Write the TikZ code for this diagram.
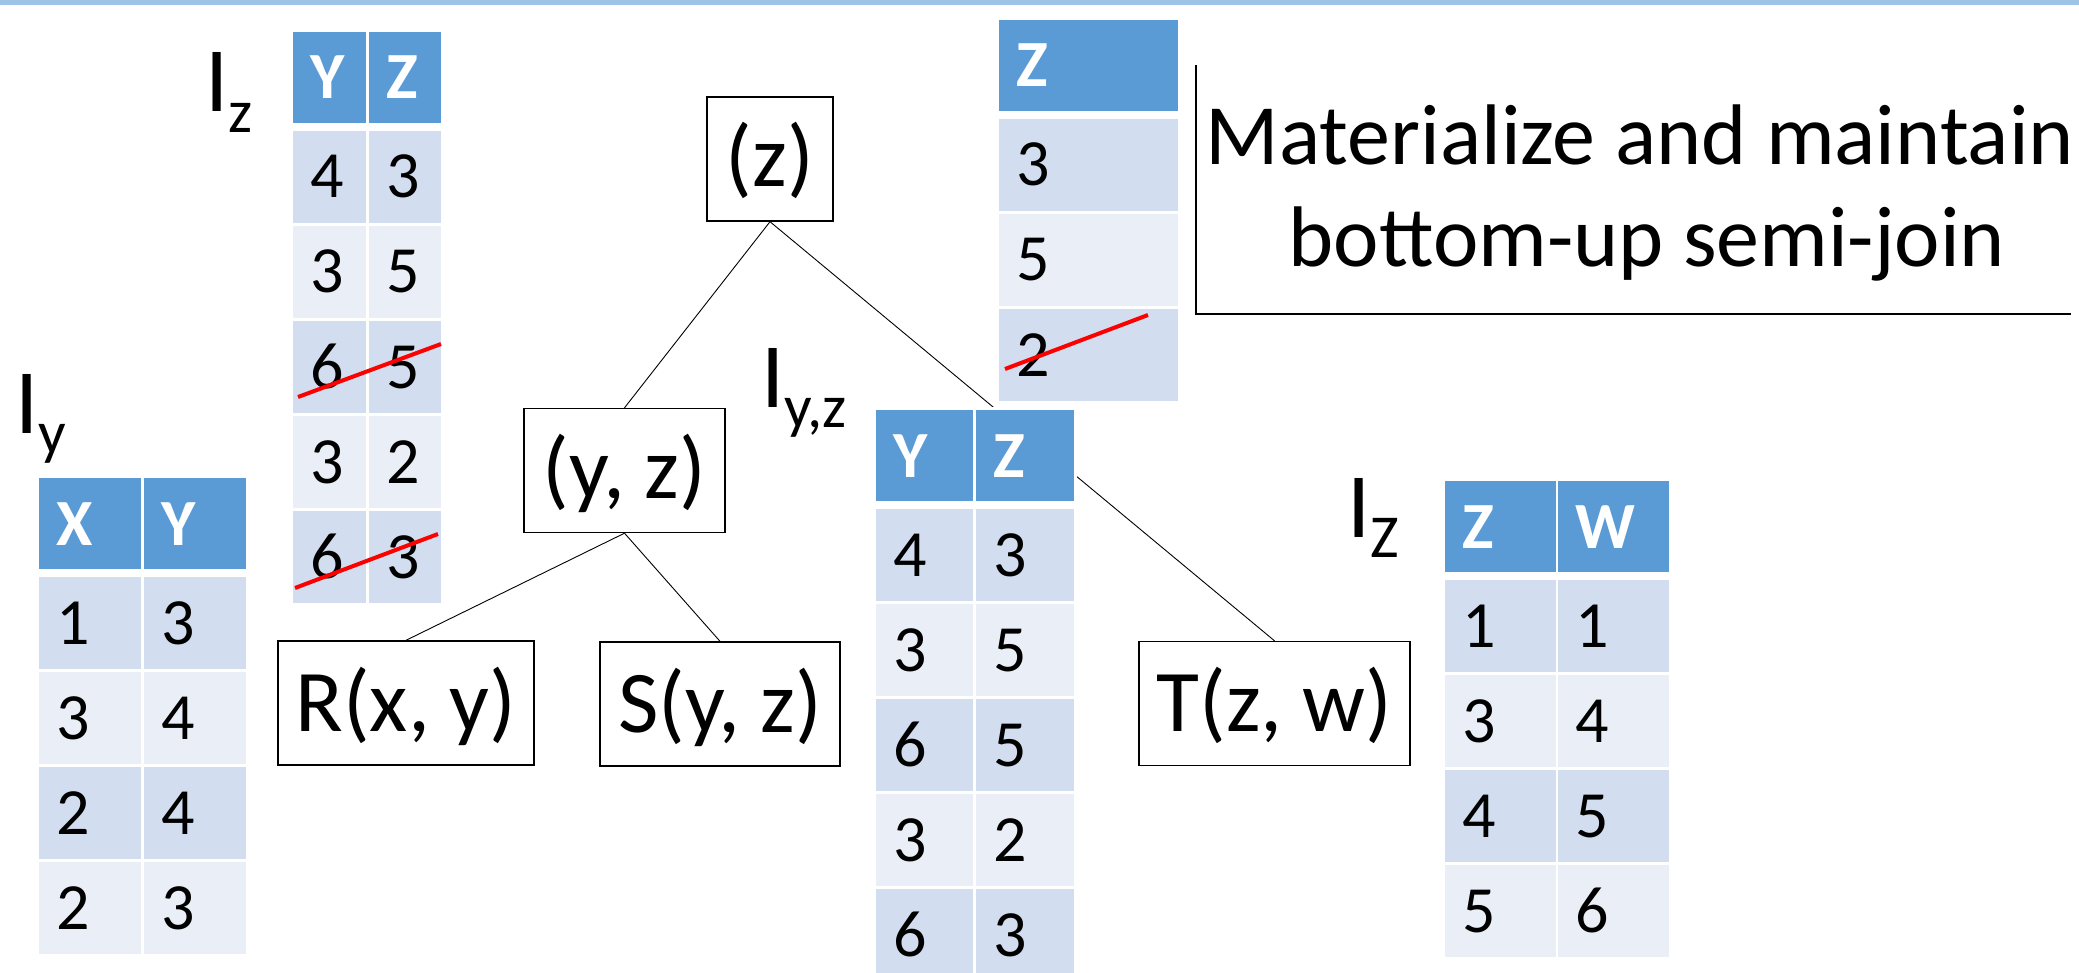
\documentclass[tikz,border=0pt]{standalone}
\usepackage{fontspec}
\setmainfont{Carlito}
\definecolor{hdrblue}{HTML}{5B9BD5}
\definecolor{rowA}{HTML}{D2DEEF}
\definecolor{rowB}{HTML}{EAEFF7}
\definecolor{topbar}{HTML}{9DC3E6}
\definecolor{strikered}{HTML}{FF0000}
\newcommand\treefont{\fontsize{88}{100}\selectfont}
\newcommand\tabfont{\fontsize{66}{76}\selectfont}
\newcommand\lblfont{\fontsize{92}{100}\selectfont}
\newcommand\subfont{\fontsize{61}{70}\selectfont}
\newcommand\mainfont{\fontsize{86}{101}\selectfont}
\tikzset{
  treebox/.style={draw=black, line width=1.4pt, inner sep=0pt, minimum height=124pt, text height=62pt, text depth=6pt, font=\treefont},
  edge/.style={draw=black, line width=0.9pt},
  htext/.style={anchor=base west, inner sep=0pt, text=white, font=\tabfont\bfseries},
  btext/.style={anchor=base west, inner sep=0pt, text=black, font=\tabfont},
  lbl/.style={anchor=base west, inner sep=0pt, font=\lblfont},
  strike/.style={draw=strikered, line width=4pt},
  bracket/.style={draw=black, line width=1.4pt},
  maintext/.style={anchor=base, inner sep=0pt, font=\mainfont},
}
\newcommand\hcell[5]{\fill[hdrblue] (#2,#3) rectangle ++(#4,91); \node[htext] (#1) at ({#2+17},{#3+67}) {#5};}
\newcommand\bcell[6]{\fill[#5] (#2,#3) rectangle ++(#4,92); \node[btext] (#1) at ({#2+17},{#3+67}) {#6};}
\begin{document}
\begin{tikzpicture}[x=1pt,y=-1pt]
\useasboundingbox (0,0) rectangle (2079,973);
\clip (0,0) rectangle (2079,973);
\fill[white] (0,0) rectangle (2079,973);
\fill[topbar] (0,0) rectangle (2079,5);

% tree
\node[treebox, minimum width=126pt] (root) at (770,159) {(z)};
\node[treebox, minimum width=201pt] (yz) at (624.5,470.5) {(y, z)};
\node[treebox, minimum width=256pt] (R) at (406,703) {R(x, y)};
\node[treebox, minimum width=240pt] (S) at (720,704) {S(y, z)};
\node[treebox, minimum width=271pt] (T) at (1274.5,703.5) {T(z, w)};
\draw[edge] (root.south) -- (yz.north);
\draw[edge] (root.south) -- (T.north);
\draw[edge] (yz.south) -- (R.north);
\draw[edge] (yz.south) -- (S.north);

% labels
\node[lbl] (lIz) at (205,112) {I\raisebox{-21pt}{\subfont z}};
\node[lbl] (lIy) at (15,433) {I\raisebox{-20pt}{\subfont y}};
\node[lbl] (lIyz) at (761,407) {I\raisebox{-20pt}{\subfont y,z}};
\node[lbl] (lIZ) at (1347,537) {I\raisebox{-20pt}{\subfont Z}};

% table I_z (top left)
\fill[white] (290,29) rectangle (444,608);
\hcell{izh1}{293}{32}{73}{Y} \hcell{izh2}{369}{32}{72}{Z}
\bcell{iz11}{293}{131}{73}{rowA}{4} \bcell{iz12}{369}{131}{72}{rowA}{3}
\bcell{iz21}{293}{226}{73}{rowB}{3} \bcell{iz22}{369}{226}{72}{rowB}{5}
\bcell{iz31}{293}{321}{73}{rowA}{6} \bcell{iz32}{369}{321}{72}{rowA}{5}
\bcell{iz41}{293}{416}{73}{rowB}{3} \bcell{iz42}{369}{416}{72}{rowB}{2}
\bcell{iz51}{293}{511}{73}{rowA}{6} \bcell{iz52}{369}{511}{72}{rowA}{3}
\draw[strike] (298,397) -- (441,344);
\draw[strike] (295,588) -- (438,534);

% table I_y
\fill[white] (36,475) rectangle (249,957);
\hcell{iyh1}{39}{478}{102}{X} \hcell{iyh2}{144}{478}{102}{Y}
\bcell{iy11}{39}{577}{102}{rowA}{1} \bcell{iy12}{144}{577}{102}{rowA}{3}
\bcell{iy21}{39}{672}{102}{rowB}{3} \bcell{iy22}{144}{672}{102}{rowB}{4}
\bcell{iy31}{39}{767}{102}{rowA}{2} \bcell{iy32}{144}{767}{102}{rowA}{4}
\bcell{iy41}{39}{862}{102}{rowB}{2} \bcell{iy42}{144}{862}{102}{rowB}{3}

% table I_{y,z}
\fill[white] (873,407) rectangle (1077,975);
\hcell{iyzh1}{876}{410}{97}{Y} \hcell{iyzh2}{976}{410}{98}{Z}
\bcell{iyz11}{876}{509}{97}{rowA}{4} \bcell{iyz12}{976}{509}{98}{rowA}{3}
\bcell{iyz21}{876}{604}{97}{rowB}{3} \bcell{iyz22}{976}{604}{98}{rowB}{5}
\bcell{iyz31}{876}{699}{97}{rowA}{6} \bcell{iyz32}{976}{699}{98}{rowA}{5}
\bcell{iyz41}{876}{794}{97}{rowB}{3} \bcell{iyz42}{976}{794}{98}{rowB}{2}
\bcell{iyz51}{876}{889}{97}{rowA}{6} \bcell{iyz52}{976}{889}{98}{rowA}{3}

% table Z (top right)
\fill[white] (996,17) rectangle (1181,404);
\hcell{zh1}{999}{20}{179}{Z}
\bcell{z11}{999}{119}{179}{rowA}{3}
\bcell{z21}{999}{214}{179}{rowB}{5}
\bcell{z31}{999}{309}{179}{rowA}{2}
\draw[strike] (1005,369) -- (1148,315);

% table I_Z (right)
\fill[white] (1442,478) rectangle (1672,960);
\hcell{zwh1}{1445}{481}{111}{Z} \hcell{zwh2}{1558}{481}{111}{W}
\bcell{zw11}{1445}{580}{111}{rowA}{1} \bcell{zw12}{1558}{580}{111}{rowA}{1}
\bcell{zw21}{1445}{675}{111}{rowB}{3} \bcell{zw22}{1558}{675}{111}{rowB}{4}
\bcell{zw31}{1445}{770}{111}{rowA}{4} \bcell{zw32}{1558}{770}{111}{rowA}{5}
\bcell{zw41}{1445}{865}{111}{rowB}{5} \bcell{zw42}{1558}{865}{111}{rowB}{6}

% text with bracket
\coordinate (brTop) at (1196,65);
\coordinate (brCorner) at (1196,314);
\coordinate (brEnd) at (2071,314);
\draw[bracket] (brTop) -- (brCorner) -- (brEnd);
\node[maintext] (txt1) at (1640,165) {Materialize and maintain};
\node[maintext] (txt2) at (1647,267) {bottom-up semi-join};
\end{tikzpicture}
\end{document}
